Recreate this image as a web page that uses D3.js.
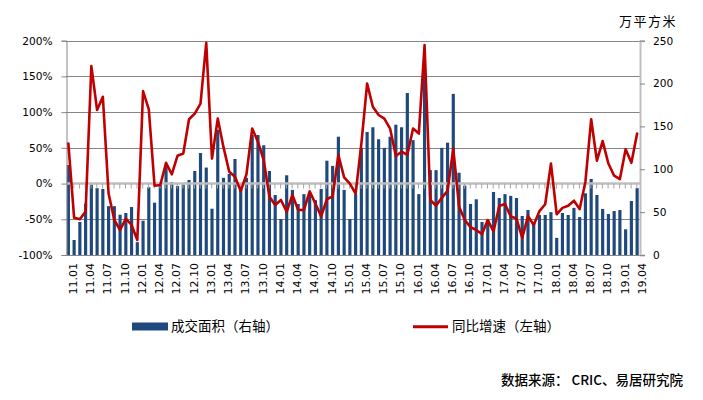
<!DOCTYPE html>
<html><head><meta charset="utf-8">
<script src="https://cdn.jsdelivr.net/npm/d3@7/dist/d3.min.js"></script>
<style>
html,body{margin:0;padding:0;background:#fff;}
svg{display:block;}
</style></head>
<body><svg id="c" width="703" height="400"></svg>
<script>
const categories = [
"11.01","11.02","11.03","11.04","11.05","11.06","11.07","11.08","11.09","11.10","11.11","11.12",
"12.01","12.02","12.03","12.04","12.05","12.06","12.07","12.08","12.09","12.10","12.11","12.12",
"13.01","13.02","13.03","13.04","13.05","13.06","13.07","13.08","13.09","13.10","13.11","13.12",
"14.01","14.02","14.03","14.04","14.05","14.06","14.07","14.08","14.09","14.10","14.11","14.12",
"15.01","15.02","15.03","15.04","15.05","15.06","15.07","15.08","15.09","15.10","15.11","15.12",
"16.01","16.02","16.03","16.04","16.05","16.06","16.07","16.08","16.09","16.10","16.11","16.12",
"17.01","17.02","17.03","17.04","17.05","17.06","17.07","17.08","17.09","17.10","17.11","17.12",
"18.01","18.02","18.03","18.04","18.05","18.06","18.07","18.08","18.09","18.10","18.11","18.12",
"19.01","19.02","19.03","19.04"];

// 成交面积（万平方米，右轴）
const areaValues = [
105,17.5,38.5,60,82,78,77,57,57,47,49,56,
15,40,79,61,82,104,85,80.5,82,87.5,98,119,
102,54,146,90,94.5,112,76,90,140,140,128,98,
70,42,93,76,59.5,71,72,64,77,110,104,138,
76,42,71,125,143.5,149,135,125,138,152,149,189,
134,71,215,99,99,125,131,188,96,81,59.5,65,
38.5,41,73.5,66.5,71,69,66.5,45.5,52.5,37,46.7,46.7,
50,20,49,46.7,55,44.3,72,88.7,70,53.7,47.8,51.3,
52.5,30,63,78];

// 同比增速（%，左轴）
const growthValues = [
56,-48,-50,-39,164.5,103,121.5,-14,-51,-65,-49,-58,
-79,129.5,104,-3,-2,29,13,39,42,90,98,112,
197,35,91,51,16.5,9.5,-10.5,13,77,58.5,33,-18.5,
-30,-23,-39.5,-16,-37,-37,-11,-28,-46,-22,-18,40,
8.6,0,-14,56,140,107.5,96,91,77,38.5,44.6,40,
77,70,194,-23,-31,-20,-10,49,-32,-51,-61,-65,
-70.7,-51,-67,-31.5,-28.7,-46,-49,-76,-45.5,-58,-38.5,-29,
28,-43,-34,-31,-24,-35.7,2.6,90,32,59.5,28,11,
6.3,48,29,70];

const xTickLabels = ["11.01","11.04","11.07","11.10","12.01","12.04","12.07","12.10",
"13.01","13.04","13.07","13.10","14.01","14.04","14.07","14.10","15.01","15.04","15.07","15.10",
"16.01","16.04","16.07","16.10","17.01","17.04","17.07","17.10","18.01","18.04","18.07","18.10",
"19.01","19.04"];
const leftTicks = [-100,-50,0,50,100,150,200];
const rightTicks = [0,50,100,150,200,250];

const unitLabel = "万平方米";
const legendBar = "成交面积（右轴）";
const legendLine = "同比增速（左轴）";
const sourceText = "数据来源： CRIC、易居研究院";

const svg = d3.select("#c");
const L = 66, R = 640, T = 40.7, B = 255;
const latin = "'DejaVu Sans', Verdana, sans-serif";
const cjk = "'Noto Sans CJK SC', sans-serif";

const x = d3.scaleBand().domain(categories).range([65.5, 640]).paddingInner(0.45).paddingOuter(0.225);
const yL = d3.scaleLinear().domain([-100, 200]).range([B, T]);
const yR = d3.scaleLinear().domain([0, 250]).range([B, T]);
const cx = c => x(c) + x.bandwidth() / 2;

// gridlines
svg.append("g").selectAll("line").data(leftTicks.filter(d => d !== 0)).join("line")
  .attr("x1", L).attr("x2", R).attr("y1", d => Math.round(yL(d)) + 0.5).attr("y2", d => Math.round(yL(d)) + 0.5)
  .attr("stroke", "#868686").attr("stroke-width", 1);

// bars
svg.append("g").selectAll("rect").data(areaValues).join("rect")
  .attr("x", (d, i) => x(categories[i]))
  .attr("width", x.bandwidth())
  .attr("y", d => yR(d))
  .attr("height", d => B - yR(d))
  .attr("fill", "#1F497D");

// zero line with ticks
svg.append("line").attr("x1", L).attr("x2", R).attr("y1", yL(0)).attr("y2", yL(0))
  .attr("stroke", "#BFBFBF").attr("stroke-width", 2.5);
svg.append("g").selectAll("line").data(categories.slice(1)).join("line")
  .attr("x1", d => cx(d) - 0.3).attr("x2", d => cx(d) - 0.3)
  .attr("y1", yL(0)).attr("y2", yL(0) + 5)
  .attr("stroke", "#A6A6A6").attr("stroke-width", 1);

// left axis
const gl = svg.append("g").attr("transform", `translate(${L + 0.5},0)`)
  .call(d3.axisLeft(yL).tickValues(leftTicks).tickFormat(d => d + "%").tickSize(5).tickPadding(9));
gl.select(".domain").attr("stroke", "#868686");
gl.selectAll(".tick line").attr("stroke", "#868686");
gl.selectAll("text").attr("font-family", latin).attr("font-size", "10.6px").attr("fill", "#000");

// right axis
const gr = svg.append("g").attr("transform", `translate(${R},0)`)
  .call(d3.axisRight(yR).tickValues(rightTicks).tickSize(5).tickPadding(8));
gr.select(".domain").attr("stroke", "#BFBFBF").attr("stroke-width", 2);
gr.selectAll(".tick line").attr("stroke", "#868686");
gr.selectAll("text").attr("font-family", latin).attr("font-size", "10.6px").attr("fill", "#000");

// bottom labels
const gb = svg.append("g").attr("transform", `translate(0,${B})`)
  .call(d3.axisBottom(x).tickValues(xTickLabels).tickSize(0).tickPadding(0));
gb.select(".domain").remove();
gb.selectAll("text")
  .attr("transform", "rotate(-90)")
  .attr("text-anchor", "end")
  .attr("x", -8).attr("y", 8.6).attr("dy", 0)
  .attr("font-family", latin).attr("font-size", "11px").attr("fill", "#000");

// line
const line = d3.line().x((d, i) => cx(categories[i])).y(d => yL(d));
svg.append("path").datum(growthValues).attr("d", line)
  .attr("fill", "none").attr("stroke", "#C00000").attr("stroke-width", 2.6)
  .attr("stroke-linejoin", "round").attr("stroke-linecap", "round");

// unit label
svg.append("text").attr("x", 619).attr("y", 26).text(unitLabel)
  .attr("font-family", cjk).attr("font-size", "13px").attr("letter-spacing", "1.5px").attr("fill", "#000");

// legend
svg.append("rect").attr("x", 132).attr("y", 322.5).attr("width", 36).attr("height", 8).attr("fill", "#1F497D");
svg.append("text").attr("x", 171).attr("y", 331).text(legendBar)
  .attr("font-family", cjk).attr("font-size", "13.5px").attr("fill", "#000");
svg.append("line").attr("x1", 413).attr("x2", 448).attr("y1", 326.7).attr("y2", 326.7)
  .attr("stroke", "#C00000").attr("stroke-width", 3);
svg.append("text").attr("x", 452).attr("y", 331).text(legendLine)
  .attr("font-family", cjk).attr("font-size", "13.5px").attr("fill", "#000");

// source
svg.append("text").attr("x", 683).attr("y", 385).attr("text-anchor", "end").text(sourceText)
  .attr("font-family", cjk).attr("font-size", "13.5px").attr("font-weight", 500).attr("fill", "#000");
</script></body></html>
